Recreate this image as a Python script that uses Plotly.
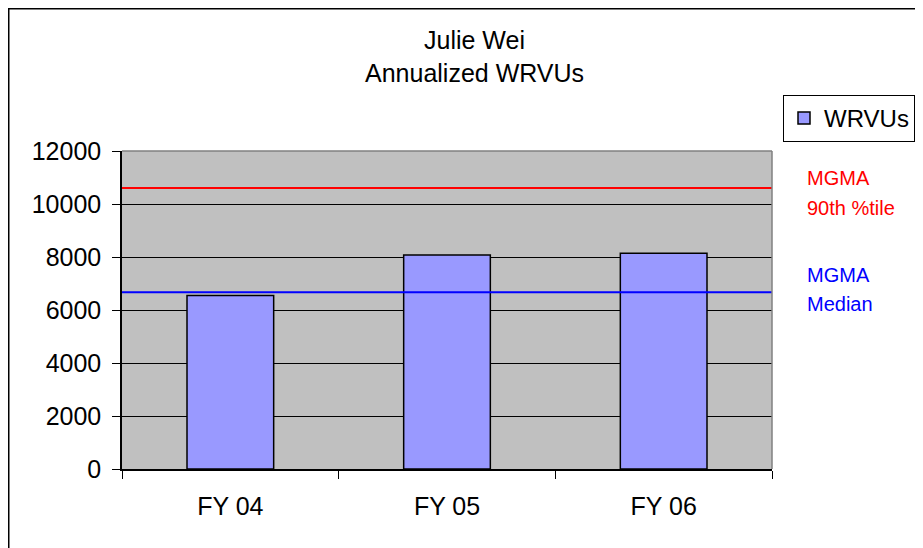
import plotly.graph_objects as go

categories = ["FY 04", "FY 05", "FY 06"]
wrvus = [6550, 8075, 8140]
mgma_90th = 10600
mgma_median = 6670
y_ticks = [0, 2000, 4000, 6000, 8000, 10000, 12000]
y_tick_labels = ["0", "2000", "4000", "6000", "8000", "10000", "12000"]

# page body margin offsets the figure by 8px
OX, OY = 8, 8
W, H = 923 - OX, 548 - OY
# plot area in window pixels
PL, PR, PT, PB = 122, 772, 151, 469
L = PL - OX
T = PT - OY
R = W - (PR - OX)
B = H - (PB - OY)
pw, ph = W - L - R, H - T - B

def px(x):
    return (x - OX - L) / pw

def py(y):
    return (H - B - (y - OY)) / ph

FONT = "Liberation Sans, Arial, sans-serif"

fig = go.Figure()
fig.add_trace(go.Bar(
    x=categories, y=wrvus, name="WRVUs",
    marker=dict(color="#9999FF", line=dict(color="#000000", width=1.5)),
))

shapes = [
    dict(type="line", xref="paper", yref="y", x0=0, x1=1, y0=mgma_90th, y1=mgma_90th,
         line=dict(color="#FF0000", width=2), layer="above"),
    dict(type="line", xref="paper", yref="y", x0=0, x1=1, y0=mgma_median, y1=mgma_median,
         line=dict(color="#0000FF", width=2), layer="above"),
    dict(type="line", xref="paper", yref="paper", x0=0, x1=1, y0=1, y1=1,
         line=dict(color="#808080", width=1.5), layer="above"),
    dict(type="line", xref="paper", yref="paper", x0=1, x1=1, y0=0, y1=1,
         line=dict(color="#808080", width=1.5), layer="above"),
    dict(type="rect", xref="paper", yref="paper", x0=px(8.75), x1=px(940), y0=py(570), y1=py(8.75),
         line=dict(color="#000000", width=1.5), fillcolor="rgba(0,0,0,0)", layer="below"),
]

def ann(text, x, y, size, color, xanchor="center"):
    return dict(text=text, x=px(x), y=py(y), xref="paper", yref="paper", showarrow=False,
                xanchor=xanchor, yanchor="middle", font=dict(size=size, color=color))

annotations = [
    ann("Julie Wei", 474, 40, 25, "#000000"),
    ann("Annualized WRVUs", 474, 73, 25, "#000000"),
    ann("MGMA", 805, 178, 20, "#FF0000", "left"),
    ann("90th %tile", 805, 208, 20, "#FF0000", "left"),
    ann("MGMA", 805, 275, 20, "#0000FF", "left"),
    ann("Median", 805, 304, 20, "#0000FF", "left"),
]

fig.update_layout(
    width=W, height=H,
    margin=dict(l=L, r=R, t=T, b=B, autoexpand=False),
    paper_bgcolor="#FFFFFF", plot_bgcolor="#C0C0C0",
    font=dict(family=FONT, size=24, color="#000000"),
    bargap=0.6,
    showlegend=True,
    legend=dict(x=px(783), y=py(95), xanchor="left", yanchor="top",
                bordercolor="#000000", borderwidth=1, bgcolor="#FFFFFF",
                font=dict(size=24), itemwidth=30, tracegroupgap=0),
    shapes=shapes, annotations=annotations,
)
fig.update_xaxes(
    type="category", tickson="boundaries", ticks="outside", ticklen=8, tickcolor="#000",
    showline=True, linecolor="#000000", linewidth=1.5, showgrid=False,
    ticklabelstandoff=14, tickfont=dict(size=25),
)
fig.update_yaxes(
    range=[0, 12000], tickvals=y_ticks, ticktext=y_tick_labels,
    ticks="outside", ticklen=8, tickcolor="#000",
    showline=True, linecolor="#000000", linewidth=1.5,
    showgrid=True, gridcolor="#000000", gridwidth=1, zeroline=False,
    ticklabelstandoff=6, tickfont=dict(size=25),
)

fig.write_html("out.html")
